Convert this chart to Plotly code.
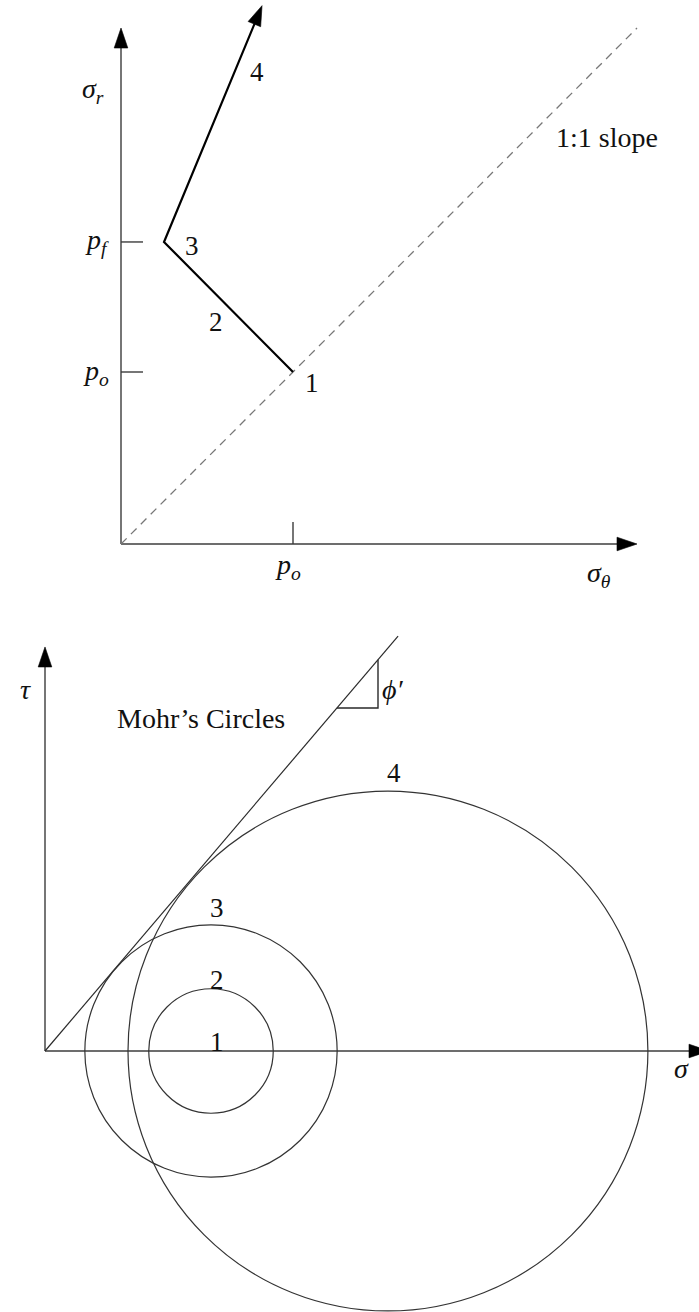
import math
import plotly.graph_objects as go

# ---- stress path in the (sigma_theta, sigma_r) plane, stresses in units of p_o ----
p_o = 1.0
p_f = 1.756
path_sigma_theta = [1.0, 0.25, 0.82]      # states 1 -> 3 -> 4
path_sigma_r = [1.0, 1.756, 3.13]
path_labels = ["1", "3", "4"]
axis_len_top = 3.0

# ---- Mohr's circles (sigma, tau), stresses in units of p_o ----
circle_labels = ["1", "2", "3", "4"]
circle_center = [1.0, 1.0, 1.0, 2.066]
circle_radius = [0.0, 0.375, 0.76, 1.566]
phi_deg = 49.6
envelope_end_sigma = 2.127
tau_axis_len = 2.434
sigma_axis_len = 4.0

W, H = 699, 1312
# pixel scale and origin of each diagram (px per unit, origin px)
s_top, ox_top, oy_top = 172.0, 121.0, 544.0
s_bot, ox_bot, oy_bot = 166.0, 45.0, 1051.0

FONT = "Liberation Serif"
TXT = "#111111"
AX = "#3c3c3c"
HEAD_LEN, HEAD_HALF = 20.0, 6.8   # arrowhead size in px

fig = go.Figure()

def refs(ref):
    return ("x", "y") if ref == 1 else ("x2", "y2")

def arrow_line(x, y, ref, scale, color=AX, width=1.4):
    # polyline ending in a filled arrowhead; both axes share the same px/unit scale
    xa, ya = refs(ref)
    dx, dy = x[-1] - x[-2], y[-1] - y[-2]
    n = math.hypot(dx, dy)
    ux, uy = dx / n, dy / n
    L, h = HEAD_LEN / scale, HEAD_HALF / scale
    bx, by = x[-1] - ux * L, y[-1] - uy * L
    fig.add_trace(go.Scatter(
        x=list(x[:-1]) + [bx + ux * 0.3 * L], y=list(y[:-1]) + [by + uy * 0.3 * L],
        xaxis=xa, yaxis=ya, mode="lines", line=dict(color=color, width=width),
        hoverinfo="skip", showlegend=False))
    fig.add_trace(go.Scatter(
        x=[x[-1], bx - uy * h, bx + uy * h, x[-1]],
        y=[y[-1], by + ux * h, by - ux * h, y[-1]],
        xaxis=xa, yaxis=ya, mode="lines", fill="toself", fillcolor="black",
        line=dict(color="black", width=0.6), hoverinfo="skip", showlegend=False))

def seg(x, y, ref, color=AX, width=1.4, dash=None):
    xa, ya = refs(ref)
    fig.add_trace(go.Scatter(
        x=x, y=y, xaxis=xa, yaxis=ya, mode="lines",
        line=dict(color=color, width=width, dash=dash),
        hoverinfo="skip", showlegend=False))

# top diagram axes
arrow_line([0, 0], [0, axis_len_top], 1, s_top)
arrow_line([0, axis_len_top], [0, 0], 1, s_top)
# 1:1 line
seg([0, axis_len_top], [0, axis_len_top], 1, color="#777777", width=1.3, dash="8px,6px")
# ticks
tk = 22 / s_top
seg([0, tk], [p_f, p_f], 1)
seg([0, tk], [p_o, p_o], 1)
seg([p_o, p_o], [0, tk], 1)
# stress path
arrow_line(path_sigma_theta, path_sigma_r, 1, s_top, color="black", width=2.2)

# bottom diagram axes
arrow_line([0, 0], [0, tau_axis_len], 2, s_bot)
arrow_line([0, sigma_axis_len], [0, 0], 2, s_bot)
tan_phi = math.tan(math.radians(phi_deg))
seg([0, envelope_end_sigma], [0, envelope_end_sigma * tan_phi], 2, color="#2a2a2a", width=1.2)
# friction angle triangle
xc, yc = 2.006, 2.066
seg([yc / tan_phi, xc, xc], [yc, yc, xc * tan_phi], 2, color="#2a2a2a", width=1.4)

shapes = []
for c, r in zip(circle_center, circle_radius):
    if r > 0:
        shapes.append(dict(type="circle", xref="x2", yref="y2",
                           x0=c - r, x1=c + r, y0=-r, y1=r,
                           line=dict(color="#333333", width=1.2)))

ann = []
def label(text, x, y, ref, size=27, xshift=0, yshift=0, xanchor="center"):
    xa, ya = refs(ref)
    ann.append(dict(text=text, x=x, y=y, xref=xa, yref=ya, showarrow=False,
                    xshift=xshift, yshift=yshift, xanchor=xanchor, yanchor="middle",
                    font=dict(family=FONT, size=size, color=TXT)))

# top labels
label("<i>σ<sub>r</sub></i>", 0, axis_len_top, 1, size=28, xshift=-28, yshift=-62)
label("<i>σ<sub>θ</sub></i>", axis_len_top, 0, 1, size=28, xshift=-38, yshift=-30)
label("<i>p<sub>f</sub></i>", 0, p_f, 1, size=28, xshift=-10, xanchor="right")
label("<i>p<sub>o</sub></i>", 0, p_o, 1, size=28, xshift=-10, xanchor="right")
label("<i>p<sub>o</sub></i>", p_o, 0, 1, size=28, xshift=-5, yshift=-22)
label("1:1 slope", 2.826, 2.366, 1, size=28)
label(path_labels[0], path_sigma_theta[0], path_sigma_r[0], 1, xshift=19, yshift=-11)
label(path_labels[1], path_sigma_theta[1], path_sigma_r[1], 1, xshift=28, yshift=-4)
label("2", (path_sigma_theta[0] + path_sigma_theta[1]) / 2,
      (path_sigma_r[0] + path_sigma_r[1]) / 2, 1, xshift=-13, yshift=-15)
label(path_labels[2], 0.79, 2.744, 1)

# bottom labels
label("<i>τ</i>", 0, tau_axis_len, 2, size=28, xshift=-20, yshift=-43)
label("<i>σ</i>", 3.837, -0.108, 2, size=28)
label("Mohr’s Circles", 0.94, 2.006, 2, size=28)
label("<i>ϕ′</i>", 2.096, 2.175, 2, size=28)
circle_label_shift = [9, 9, 17, 18]
for t, c, r, dy in zip(circle_labels, circle_center, circle_radius, circle_label_shift):
    label(t, c, r, 2, xshift=6, yshift=dy)

ax_common = dict(visible=False, showgrid=False, zeroline=False, fixedrange=True)
fig.update_layout(
    width=W, height=H, margin=dict(l=0, r=0, t=0, b=0),
    paper_bgcolor="white", plot_bgcolor="white", showlegend=False,
    xaxis=dict(range=[-ox_top / s_top, (W - ox_top) / s_top], domain=[0, 1], **ax_common),
    yaxis=dict(range=[(oy_top - H) / s_top, oy_top / s_top], domain=[0, 1], **ax_common),
    xaxis2=dict(range=[-ox_bot / s_bot, (W - ox_bot) / s_bot], overlaying="x", **ax_common),
    yaxis2=dict(range=[(oy_bot - H) / s_bot, oy_bot / s_bot], overlaying="y", **ax_common),
    shapes=shapes, annotations=ann,
)
fig.write_html("out.html")
